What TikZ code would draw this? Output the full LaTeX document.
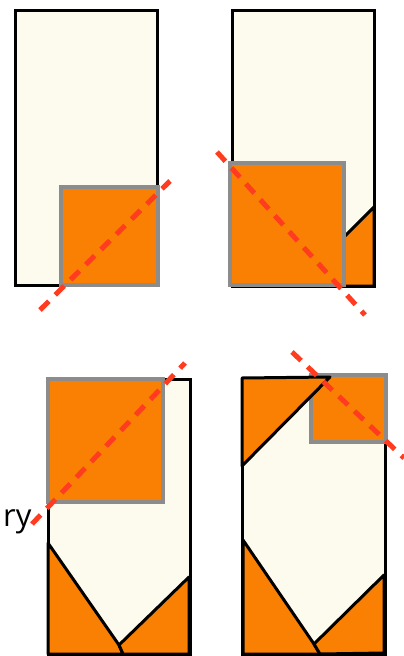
\documentclass[tikz,border=0pt]{standalone}
\usepackage{fontspec}
\setsansfont{Open Sans}
\usepackage{tikz}
\definecolor{paper}{RGB}{253,251,238}
\definecolor{foldorange}{RGB}{249,128,3}
\definecolor{cutred}{RGB}{255,59,32}
\definecolor{edgegray}{RGB}{140,140,140}

\begin{document}
\begin{tikzpicture}[
  x=1pt, y=-1pt,
  sheet/.style={draw=black, line width=3pt, fill=paper},
  flap/.style={draw=black, line width=3pt, fill=foldorange, line join=round},
  square/.style={draw=edgegray, line width=3.2pt, fill=foldorange},
  crease/.style={cutred, line width=5pt, dash pattern=on 12.5pt off 9pt}
]
  \useasboundingbox (0,0) rectangle (404,656);
  % top left
  \draw[sheet] (15,10) rectangle (157,285);
  \draw[square] (61,187) rectangle (158,285);
  \draw[crease] (40,310) -- (170,181);
  % top right
  \draw[sheet] (232,10) rectangle (374,286);
  \draw[flap] (344,237) -- (374,207) -- (374,286) -- (344,286) -- cycle;
  \draw[square] (230,163) rectangle (344,285);
  \draw[crease] (217,152) -- (365,315);
  % bottom left
  \draw[sheet] (48,379) rectangle (190,654);
  \draw[flap] (48,543) -- (119,645) -- (123,654) -- (48,654) -- cycle;
  \draw[flap] (119,645) -- (189,577) -- (189,654) -- (123,654) -- cycle;
  \draw[square] (48,379) rectangle (163,502);
  \draw[crease] (32,524) -- (185,363);
  \node[font=\sffamily\fontsize{31}{31}\selectfont, anchor=base west, inner sep=0pt] (hint) at (3,526) {ry};
  % bottom right
  \draw[sheet] (242,378) rectangle (385,654);
  \draw[square] (311,375) rectangle (386,442);
  \draw[flap] (242,378) -- (330,377) -- (242,466) -- cycle;
  \draw[flap] (243,540) -- (314,644) -- (320,654) -- (243,654) -- cycle;
  \draw[flap] (314,644) -- (384,575) -- (384,653) -- (320,654) -- cycle;
  \draw[crease] (292,352) -- (404,458);
\end{tikzpicture}
\end{document}
